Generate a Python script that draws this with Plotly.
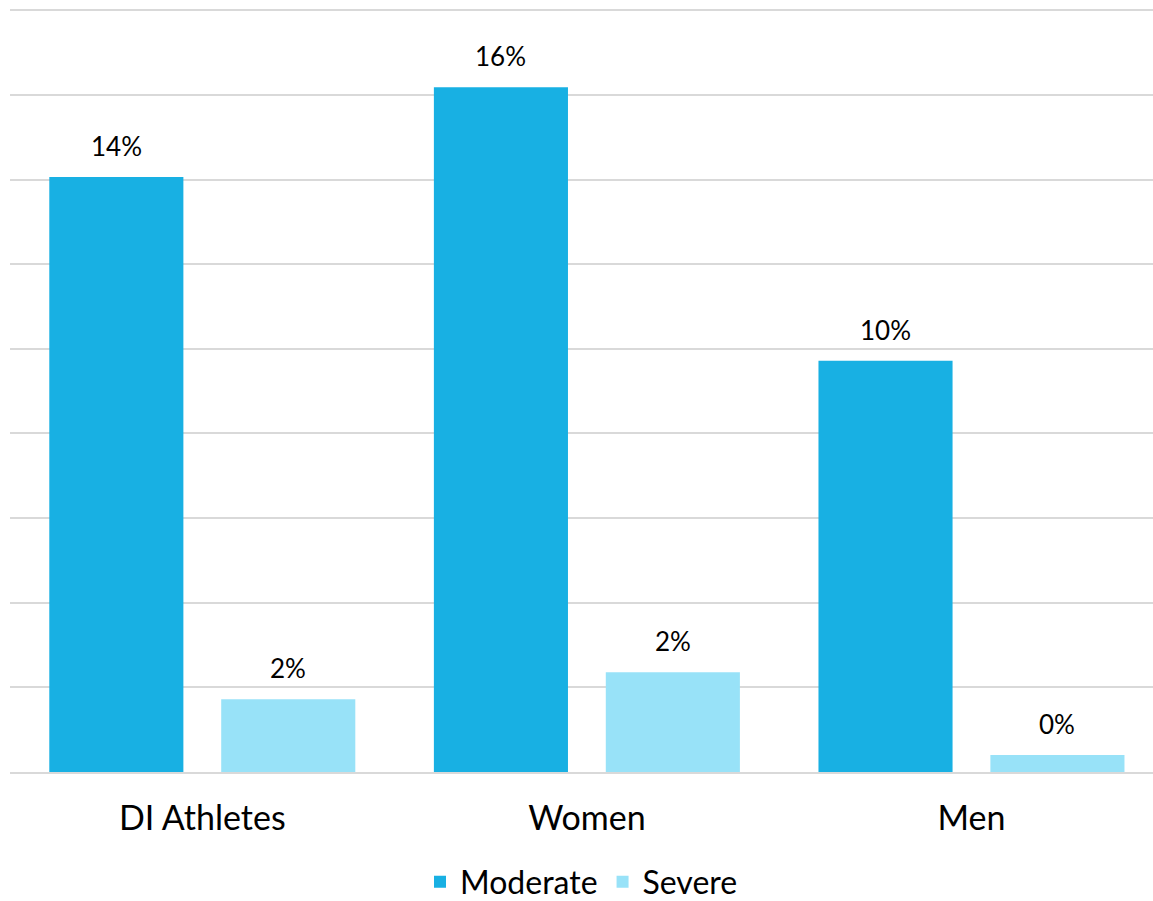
import plotly.graph_objects as go

categories = ["DI Athletes", "Women", "Men"]
moderate = [14.06, 16.18, 9.72]
severe = [1.72, 2.36, 0.40]
moderate_labels = ["14%", "16%", "10%"]
severe_labels = ["2%", "2%", "0%"]

FONT = "Lato"
BARGAP = 0.106
GROUPGAP = 0.22

fig = go.Figure()
fig.add_trace(go.Bar(
    x=categories, y=moderate, name="Moderate",
    marker=dict(color="#18B0E3", line=dict(width=0)),
    hoverinfo="skip",
))
fig.add_trace(go.Bar(
    x=categories, y=severe, name="Severe",
    marker=dict(color="#98E2F8", line=dict(width=0)),
    hoverinfo="skip",
))

slot = (1 - BARGAP) / 2
annotations = []
for i, cat in enumerate(categories):
    for vals, labs, off in ((moderate, moderate_labels, -slot / 2), (severe, severe_labels, slot / 2)):
        annotations.append(dict(
            x=i + off, y=vals[i], xref="x", yref="y", text=labs[i],
            showarrow=False, yanchor="bottom", xanchor="center", yshift=13,
            font=dict(family=FONT, size=26, color="#000000"),
        ))

fig.update_layout(
    width=1153, height=901,
    margin=dict(l=10, r=0, t=9, b=129, autoexpand=False),
    paper_bgcolor="white", plot_bgcolor="white",
    barmode="group", bargap=BARGAP, bargroupgap=GROUPGAP,
    font=dict(family=FONT, color="#000000"),
    showlegend=True,
    legend=dict(orientation="h", x=0.5, xanchor="center", y=-0.144, yanchor="middle",
                font=dict(family=FONT, size=32, color="#000000"),
                traceorder="normal", borderwidth=0),
    annotations=annotations,
)
fig.update_xaxes(
    type="category", range=[-0.5, 2.472], automargin=False,
    showgrid=False, showline=True, linecolor="#D9D9D9", linewidth=2,
    ticks="", tickfont=dict(family=FONT, size=34, color="#000000"),
    ticklabelstandoff=15,
)
fig.update_yaxes(
    range=[0, 18.03], dtick=2, showgrid=True, gridcolor="#D9D9D9", gridwidth=2,
    showticklabels=False, zeroline=False, showline=False, ticks="", automargin=False,
)

fig.write_html("out.html", config={"displayModeBar": False},
               post_script="document.body.style.margin='0';")
